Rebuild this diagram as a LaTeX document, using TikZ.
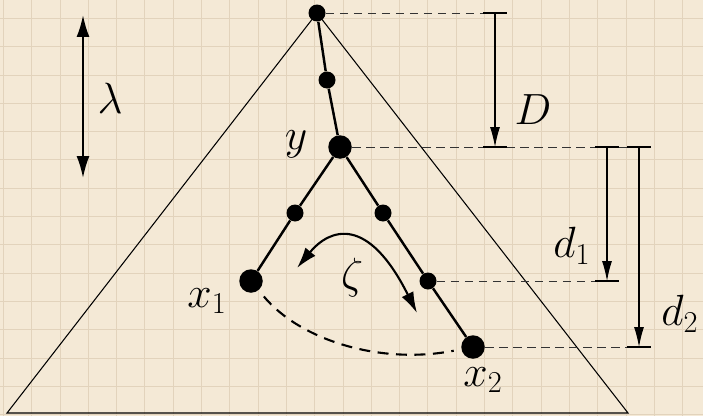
\documentclass[tikz,border=0pt]{standalone}
\usepackage{amsmath}
\usepackage{xcolor}
\usepackage{tikz}
\usetikzlibrary{arrows.meta}
\definecolor{cPaper}{HTML}{F4E9D6}
\definecolor{cGrid}{HTML}{E2D3BC}

\begin{document}
\begin{tikzpicture}[
    x=0.02cm, y=-0.02cm,
    font=\fontsize{27}{32}\selectfont,
    >={Latex[length=0.4cm,width=0.2cm]},
    dot/.style={circle, fill=black, inner sep=0pt, minimum size=0.34cm},
    bigdot/.style={dot, minimum size=0.47cm},
    branch/.style={line width=1.4pt},
    guide/.style={dash pattern=on 0.17cm off 0.11cm, line width=0.55pt, black!80},
    tickmark/.style={line width=0.6pt},
    dim/.style={->, line width=0.6pt},
    lbl/.style={inner sep=0pt}
]

% --- paper ---
\useasboundingbox (0,0) rectangle (703,416);
\fill[cPaper] (0,0) rectangle (703,416);
\foreach \gx in {0,...,24}
  \draw[cGrid, line width=0.4pt] ({3.3+28.3*\gx},0) -- ++(0,416);
\foreach \gy in {1,...,15}
  \draw[cGrid, line width=0.4pt] (0,{-10+28.3*\gy}) -- ++(703,0);

% --- tree vertices ---
\node[dot] (root) at (317,13) {};
\node[dot] (a) at (327,80) {};
\node[bigdot] (y) at (340,147) {};
\node[dot] (l1) at (295,213) {};
\node[dot] (r1) at (383,213) {};
\node[bigdot] (x1) at (251,281) {};
\node[dot] (r2) at (428,281) {};
\node[bigdot] (x2) at (473,347) {};

% --- cone ---
\coordinate (bl) at (7,413);
\coordinate (br) at (628,413);
\draw[line width=0.6pt] (root.center) -- (bl) -- (br) -- cycle;

% --- branches ---
\draw[branch] (root) -- (a) -- (y);
\draw[branch] (y) -- (l1) -- (x1);
\draw[branch] (y) -- (r1) -- (r2) -- (x2);

% --- depth guides ---
\coordinate (Dtop) at (495,13);
\coordinate (Dbot) at (495,147);
\coordinate (d1top) at (607,147);
\coordinate (d1bot) at (607,281);
\coordinate (d2top) at (639,147);
\coordinate (d2bot) at (639,347);

\draw[guide] (root) -- (Dtop);
\draw[guide] (y) -- (d2top);
\draw[guide] (r2) -- (d1bot);
\draw[guide] (x2) -- (d2bot);
\foreach \c in {Dtop,Dbot,d1top,d1bot,d2top,d2bot}
  \draw[tickmark] ([xshift=-0.24cm]\c) -- ([xshift=0.24cm]\c);

\draw[dim] (Dtop) -- (Dbot);
\draw[dim] (d1top) -- (d1bot);
\draw[dim] (d2top) -- (d2bot);

% --- scale arrow ---
\coordinate (lamtop) at (83,15);
\coordinate (lambot) at (83,178);
\draw[<->, line width=1.2pt, >={Latex[length=0.44cm,width=0.26cm]}] (lamtop) -- (lambot);

% --- zeta and the dashed link ---
\coordinate (zL) at (297,268);
\coordinate (zR) at (417,313);
\draw[<->, line width=1.2pt, >={Latex[length=0.42cm,width=0.26cm]}]
  (zL) .. controls (330,228) and (368,215) .. (zR);
\draw[line width=1.2pt, dash pattern=on 0.22cm off 0.15cm, shorten <=0.16cm, shorten >=0.15cm]
  (x1) .. controls (300,340) and (380,365) .. (x2);

% labels
\node[lbl] (tlam) at (110,98) {$\lambda$};
\node[lbl] (ty) at (296,144) {$y$};
\node[lbl] (tD) at (533,110) {$D$};
\node[lbl] (td1) at (572,246) {$d_1$};
\node[lbl] (td2) at (680,314) {$d_2$};
\node[lbl] (tx1) at (207,301) {$x_1$};
\node[lbl] (tx2) at (483,380) {$x_2$};
\node[lbl] (tzeta) at (352,278) {$\zeta$};

\end{tikzpicture}
\end{document}
